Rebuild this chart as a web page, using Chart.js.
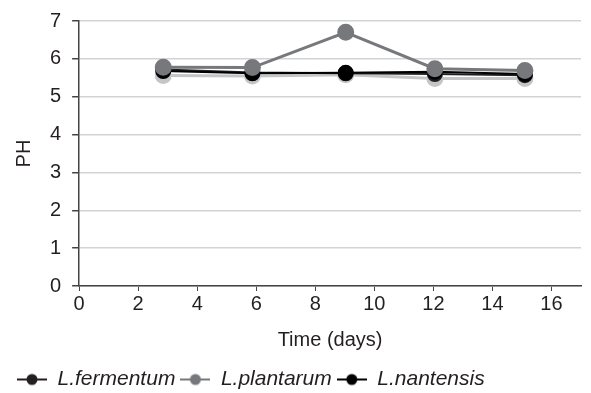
<!DOCTYPE html>
<html>
<head>
<meta charset="utf-8">
<script src="https://cdn.jsdelivr.net/npm/chart.js@4.4.1/dist/chart.umd.min.js"></script>
<style>
  html, body { margin: 0; padding: 0; background: #fff; }
  #wrap { width: 591px; height: 393px; }
</style>
</head>
<body>
<div id="wrap"><canvas id="phChart" width="591" height="393"></canvas></div>
<script>
// --- data ---
const days = [2.85, 5.87, 9.03, 12.05, 15.1];
const fermentum = [5.72, 5.64, 5.62, 5.6, 5.57];
const plantarum = [5.78, 5.77, 6.7, 5.74, 5.69];
const nantensis = [5.68, 5.62, 5.63, 5.66, 5.6];
const unlabelled = [5.56, 5.55, 5.58, 5.48, 5.48];
const xTicks = [0, 2, 4, 6, 8, 10, 12, 14, 16];
const yTicks = [0, 1, 2, 3, 4, 5, 6, 7];

const toPoints = (ys) => ys.map((y, i) => ({ x: days[i], y: y }));

// little "line with a dot" used as legend symbol
function legendSymbol(color) {
    const c = document.createElement('canvas');
    c.width = 30; c.height = 14;
    const g = c.getContext('2d');
    g.strokeStyle = color;
    g.lineWidth = 2;
    g.beginPath();
    g.moveTo(0, 7);
    g.lineTo(30, 7);
    g.stroke();
    g.fillStyle = color;
    g.beginPath();
    g.arc(15, 7, 5.5, 0, 2 * Math.PI);
    g.fill();
    return c;
}

const family = '"Liberation Sans", Arial, sans-serif';
const font = { family: family, size: 20 };
const textColor = '#231f20';

new Chart(document.getElementById('phChart'), {
    type: 'line',
    data: {
        datasets: [
            {
                label: 'L.fermentum', data: toPoints(fermentum),
                borderColor: '#231f20', backgroundColor: '#231f20',
                borderWidth: 2, pointRadius: 7, pointHoverRadius: 7, order: 3
            },
            {
                label: 'L.plantarum', data: toPoints(plantarum),
                borderColor: '#77787b', backgroundColor: '#77787b',
                borderWidth: 3, pointRadius: 7, pointHoverRadius: 7, order: 1
            },
            {
                label: 'L.nantensis', data: toPoints(nantensis),
                borderColor: '#000000', backgroundColor: '#000000',
                borderWidth: 2, pointRadius: 7, pointHoverRadius: 7, order: 2
            },
            {
                label: '', data: toPoints(unlabelled),
                borderColor: '#c4c5c7', backgroundColor: '#c4c5c7',
                borderWidth: 3, pointRadius: 7, pointHoverRadius: 7, order: 4
            }
        ]
    },
    options: {
        responsive: false,
        animation: false,
        layout: { padding: { left: 12, right: 6, top: -4, bottom: -7 } },
        plugins: {
            tooltip: { enabled: false },
            legend: {
                position: 'bottom',
                align: 'start',
                labels: {
                    usePointStyle: true,
                    pointStyleWidth: 30,
                    color: textColor,
                    font: { family: family, size: 21, style: 'italic' },
                    padding: 5,
                    filter: (item) => item.text !== '',
                    generateLabels: (chart) => chart.data.datasets.map((ds, i) => ({
                        text: ds.label,
                        datasetIndex: i,
                        fontColor: textColor,
                        pointStyle: legendSymbol(ds.borderColor),
                        lineWidth: 0,
                        strokeStyle: 'transparent',
                        fillStyle: ds.borderColor,
                        hidden: false
                    }))
                }
            }
        },
        scales: {
            x: {
                type: 'linear',
                min: 0,
                max: 17,
                afterBuildTicks: (scale) => { scale.ticks = xTicks.map(v => ({ value: v })); },
                grid: { drawOnChartArea: false, color: '#444', tickLength: 5, tickColor: '#444' },
                border: { color: '#444', width: 1.5 },
                ticks: { color: textColor, font: font, padding: 1, maxRotation: 0 },
                title: { display: true, text: 'Time (days)', color: textColor, font: font, padding: { top: 11, bottom: 12 } }
            },
            y: {
                min: 0,
                max: 7,
                afterBuildTicks: (scale) => { scale.ticks = yTicks.map(v => ({ value: v })); },
                grid: { color: '#d2d3d5', lineWidth: 1.5, tickLength: 7, tickColor: '#444' },
                border: { color: '#444', width: 1.5 },
                ticks: { color: textColor, font: { family: family, size: 20, lineHeight: 1 }, padding: 11 },
                title: { display: true, text: 'PH', color: textColor, font: font, padding: { top: 0, bottom: 3 } }
            }
        }
    }
});
</script>
</body>
</html>
